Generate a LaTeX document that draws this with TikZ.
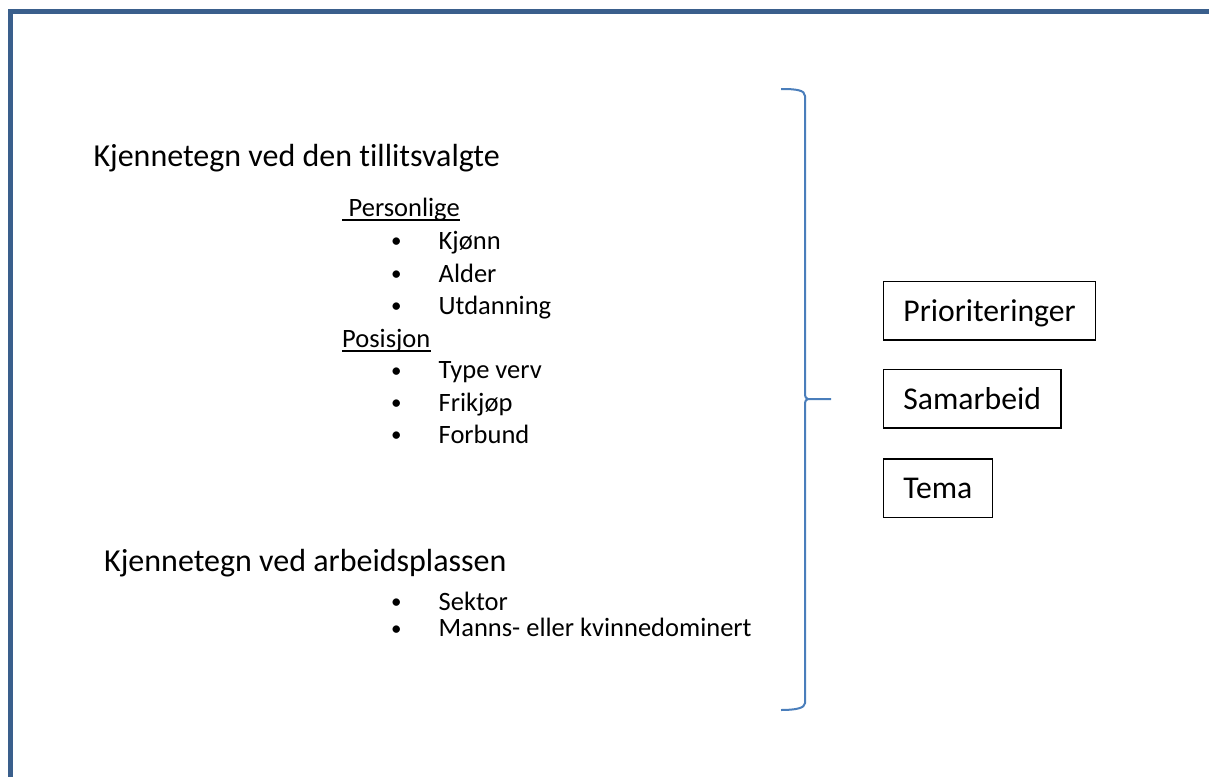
\documentclass[tikz,border=0pt]{standalone}
\usepackage{fontspec}
\setmainfont{Carlito}[Ligatures=NoCommon]
\definecolor{framecol}{HTML}{3A5F8C}
\definecolor{bracecol}{HTML}{4A7EBB}
\tikzset{
  heading/.style={anchor=base west, inner sep=0pt, font=\fontsize{32}{38}\selectfont},
  listtext/.style={anchor=base west, inner sep=0pt, font=\fontsize{26.5}{32}\selectfont},
  bul/.style={anchor=base west, inner sep=0pt, font=\fontsize{21}{25}\selectfont},
  resbox/.style={draw=black, line width=1.3pt, anchor=north west, inner xsep=20pt, inner ysep=14.65pt,
    text height=25pt, text depth=4pt, font=\fontsize{31.7}{38}\selectfont},
  frameline/.style={draw=framecol, line width=5pt},
  brace/.style={draw=bracecol, line width=2pt}
}
\begin{document}
\begin{tikzpicture}[x=1pt,y=-1pt]
\useasboundingbox (0,0) rectangle (1209,776);
% frame
\draw[frameline] (10,790) -- (10,12) -- (1220,12);
% headings
\node[heading] (h1) at (93.3,166) {Kjennetegn ved den tillitsvalgte};
\node[heading] (h2) at (104,571) {Kjennetegn ved arbeidsplassen};
% personal list
\node[listtext] (pers) at (342,216) {\hspace{6.5pt}Personlige};
\draw[line width=1.3pt] ([yshift=-4pt]pers.base west) -- ([yshift=-4pt]pers.base east);
\node[bul] (b1) at (391,247.5) {•};
\node[listtext] (i1) at (438.5,249.3) {Kjønn};
\node[bul] (b2) at (391,280.5) {•};
\node[listtext] (i2) at (438.5,282) {Alder};
\node[bul] (b3) at (391,312.5) {•};
\node[listtext] (i3) at (438.5,314) {Utdanning};
\node[listtext] (pos) at (342,347) {Posisjon};
\draw[line width=1.3pt] ([yshift=-4pt]pos.base west) -- ([yshift=-4pt]pos.base east);
\node[bul] (b4) at (391,377) {•};
\node[listtext] (i4) at (438.5,378.5) {Type verv};
\node[bul] (b5) at (391,409.5) {•};
\node[listtext] (i5) at (438.5,411) {Frikjøp};
\node[bul] (b6) at (391,441.5) {•};
\node[listtext] (i6) at (438.5,443) {Forbund};
% workplace list
\node[bul] (b7) at (391,608.5) {•};
\node[listtext] (i7) at (438.5,610) {Sektor};
\node[bul] (b8) at (391,635.2) {•};
\node[listtext] (i8) at (438.5,636.7) {Manns- eller kvinnedominert};
% brace
\coordinate (bt) at (781,89);
\coordinate (tip) at (808,399);
\coordinate (tipend) at (831,399);
\coordinate (bb) at (781,710);
\draw[brace] (bt) .. controls (796,89) and (805,90) .. (805,96) -- (805,393) .. controls (805,397) and (806,399) .. (tip) -- (tipend);
\draw[brace] (tip) .. controls (806,399) and (805,401) .. (805,405) -- (805,703) .. controls (805,708) and (796,710) .. (bb);
% boxes
\node[resbox] (pri) at (882.7,281) {Prioriteringer};
\node[resbox] (sam) at (882.7,369) {Samarbeid};
\node[resbox] (tem) at (882.7,458.3) {Tema};
\end{tikzpicture}
\end{document}
